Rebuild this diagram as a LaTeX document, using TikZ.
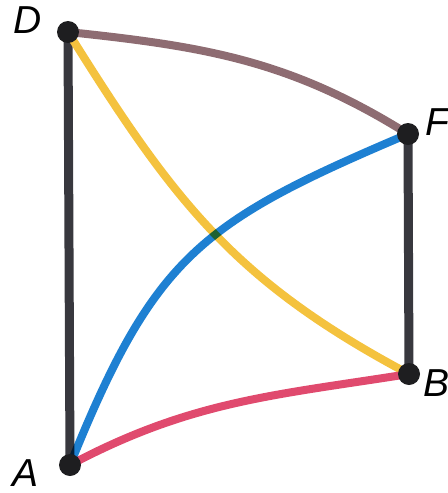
\documentclass[tikz,border=0pt]{standalone}
\usepackage{fontspec}
\setmainfont{Liberation Sans}
\definecolor{edgegray}{HTML}{38383E}
\definecolor{edgebrown}{HTML}{8E6C72}
\definecolor{edgeyellow}{HTML}{F4C23E}
\definecolor{edgeblue}{HTML}{1E80D2}
\definecolor{edgered}{HTML}{E04A6E}
\definecolor{dotcol}{HTML}{1E1E20}
\begin{document}
\begin{tikzpicture}[x=0.5pt,y=-0.5pt,
  vdot/.style={circle,fill=dotcol,inner sep=0pt,minimum size=11pt},
  vlabel/.style={font=\fontsize{19.5}{22}\selectfont\itshape,inner sep=0pt},
  grayedge/.style={draw=edgegray,line width=4.5pt},
  coloredge/.style={line width=4pt,line cap=round}]
\useasboundingbox (0,0) rectangle (448,493);
\coordinate (pD) at (68,32);
\coordinate (pF) at (408,134);
\coordinate (pB) at (409,374);
\coordinate (pA) at (70,465);
% edges
\draw[grayedge] (pD) -- (pA);
\draw[grayedge] (pF) -- (pB);
\draw[coloredge,draw=edgebrown] (pD) to[out=-6,in=148] (pF);
\draw[coloredge,draw=edgeyellow] (pD) to[out=-58,in=152,looseness=1.05] (pB);
\draw[coloredge,draw=edgeblue,blend mode=multiply] (pA) to[out=68,in=203,looseness=1.22] (pF);
\draw[coloredge,draw=edgered] (pA) to[out=28,in=189] (pB);
% dots
\node[vdot] (D) at (pD) {};
\node[vdot] (F) at (pF) {};
\node[vdot] (B) at (pB) {};
\node[vdot] (A) at (pA) {};
% labels
\node[vlabel] (lD) at (28,20) {D};
\node[vlabel] (lF) at (437,122) {F};
\node[vlabel] (lB) at (437,383) {B};
\node[vlabel] (lA) at (26,473) {A};
\end{tikzpicture}
\end{document}
